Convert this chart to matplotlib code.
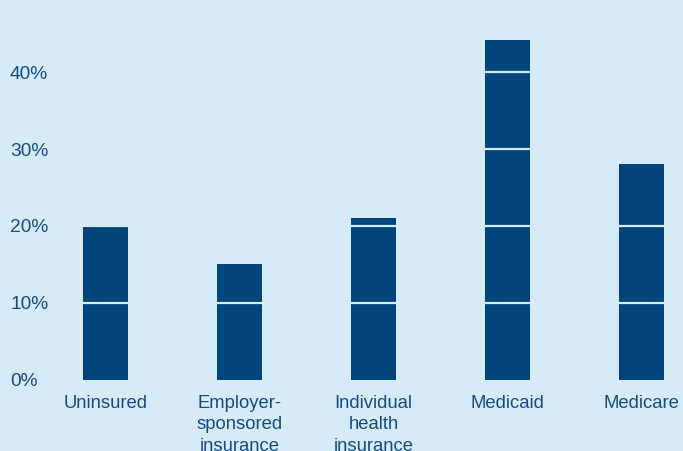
import matplotlib
matplotlib.use("Agg")
import matplotlib.pyplot as plt
import matplotlib.transforms as mtransforms

categories = ["Uninsured", "Employer-\nsponsored\ninsurance", "Individual\nhealth\ninsurance",
              "Medicaid", "Medicare"]
values = [19.9, 15.0, 21.0, 44.2, 28.0]
yticks = [0, 10, 20, 30, 40]
ytick_labels = ["0%", "10%", "20%", "30%", "40%"]

BG = "#d5ecf8"
BAR = "#00447c"
TXT = "#174b7f"
GRID = "#d5ecf8"

W, H = 683, 451
fig = plt.figure(figsize=(W / 100, H / 100), dpi=100, facecolor=BG)
ax = fig.add_axes([0, (H - 379.5) / H, 1, 379.5 / H])
ax.set_facecolor(BG)

x = list(range(len(categories)))
ax.bar(x, values, width=45 / 134, color=BAR, zorder=2)

# pixel layout: first bar centred at 105.5 px, 134 px between bars
ax.set_xlim(-105.5 / 134, (W - 105.5) / 134)
ax.set_ylim(0, 379.5 / 7.68)

for t in yticks[1:]:
    ax.axhline(t, color=GRID, lw=1.6, zorder=3)

for s in ax.spines.values():
    s.set_visible(False)
ax.set_yticks([])
ax.set_xticks(x)
ax.set_xticklabels(categories, fontsize=13.3, color=TXT, family="Liberation Sans",
                   linespacing=1.35)
ax.tick_params(axis="x", length=0, pad=11)

trans = mtransforms.blended_transform_factory(fig.transFigure, ax.transData)
trans = trans + mtransforms.ScaledTranslation(0, -2 / 100, fig.dpi_scale_trans)
for t, lab in zip(yticks, ytick_labels):
    ax.text(10 / W, t, lab, transform=trans, ha="left", va="center",
            fontsize=13.8, color=TXT, family="Liberation Sans", clip_on=False)

fig.savefig("out.png", dpi=100, facecolor=BG)
